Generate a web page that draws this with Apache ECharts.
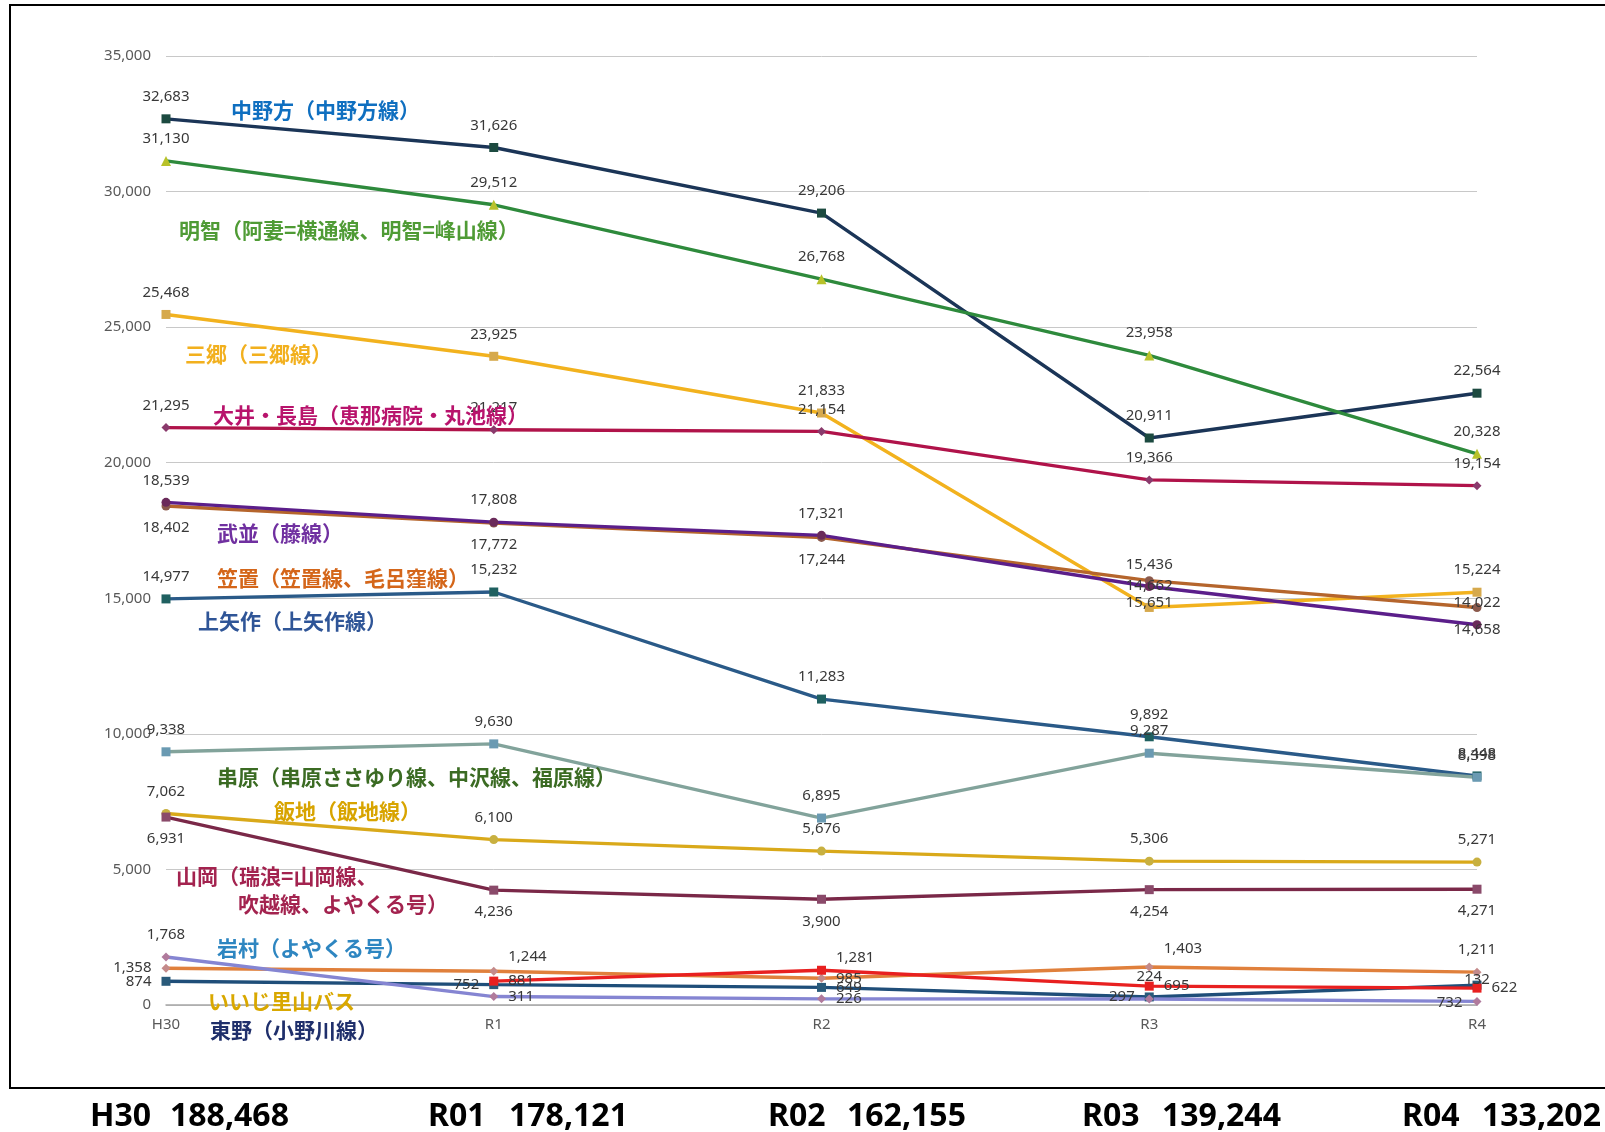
<!DOCTYPE html>
<html>
<head>
<meta charset="utf-8">
<script src="https://cdn.jsdelivr.net/npm/echarts@6/dist/echarts.min.js"></script>
<style>
  html, body { margin: 0; padding: 0; background: #fff; }
  #chart { width: 1605px; height: 1132px; }
</style>
</head>
<body>
<div id="chart"></div>
<script>
// 年度
const years = ["H30", "R1", "R2", "R3", "R4"];

// 各路線の利用者数
const nakanoho = [32683, 31626, 29206, 20911, 22564];
const akechi = [31130, 29512, 26768, 23958, 20328];
const misato = [25468, 23925, 21833, 14662, 15224];
const ooiNagashima = [21295, 21217, 21154, 19366, 19154];
const takenami = [18539, 17808, 17321, 15436, 14022];
const kasagi = [18402, 17772, 17244, 15651, 14658];
const kamiyahagi = [14977, 15232, 11283, 9892, 8448];
const kushihara = [9338, 9630, 6895, 9287, 8398];
const iiji = [7062, 6100, 5676, 5306, 5271];
const yamaoka = [6931, 4236, 3900, 4254, 4271];
const iwamura = [1768, 311, 226, 224, 132];
const orangeLine = [1358, 1244, 985, 1403, 1211];
const iijiSatoyama = [null, 881, 1281, 695, 622];
const higashino = [874, 752, 649, 297, 732];

// 下の合計
const totalYears = ["H30", "R01", "R02", "R03", "R04"];
const totals = [188468, 178121, 162155, 139244, 133202];

const labelFont = '"Noto Sans", sans-serif';
const titleFont = '"Noto Sans CJK JP", sans-serif';

// ラベル位置 ("r-15" = 右で15px上, "l+18" = 左で18px下)
const makeData = (values, positions) =>
  values.map((v, i) => {
    if (v === null) return null;
    let pos = Array.isArray(positions) ? positions[i] : positions;
    let offset = [0, 0];
    if (pos.startsWith("r-")) {
      offset = [0, -Number(pos.slice(2))];
      pos = "right";
    } else if (pos.startsWith("l+")) {
      offset = [0, Number(pos.slice(2))];
      pos = "left";
    }
    return { value: v, label: { position: pos, offset: offset } };
  });

const makeSeries = (name, values, lineColor, markColor, symbol, positions) => ({
  name: name,
  type: "line",
  data: makeData(values, positions),
  symbol: symbol,
  symbolSize: symbol === "triangle" ? 10 : 9,
  lineStyle: { color: lineColor, width: 3.4 },
  itemStyle: { color: markColor },
  connectNulls: false,
  label: {
    show: true,
    distance: 10,
    color: "#383838",
    fontSize: 15,
    fontFamily: labelFont,
    formatter: (p) => p.value.toLocaleString("en-US"),
  },
});

const seriesList = [
  makeSeries("中野方", nakanoho, "#1b3557", "#1c4a40", "rect", "top"),
  makeSeries("明智", akechi, "#2e8a3c", "#b8c22a", "triangle", "top"),
  makeSeries("三郷", misato, "#f2b21e", "#d6a94c", "rect", "top"),
  makeSeries("大井・長島", ooiNagashima, "#b0134a", "#8a3a6c", "diamond", "top"),
  makeSeries("笠置", kasagi, "#b5652c", "#8b5a4c", "circle", "bottom"),
  makeSeries("武並", takenami, "#5b1e8a", "#6a2a5a", "circle", "top"),
  makeSeries("上矢作", kamiyahagi, "#2a5a88", "#1f6060", "rect", "top"),
  makeSeries("串原", kushihara, "#82a39b", "#6a9ab2", "rect", "top"),
  makeSeries("飯地", iiji, "#d9a91a", "#c8b040", "circle", "top"),
  makeSeries("山岡", yamaoka, "#7a2848", "#8a4a6a", "rect", "bottom"),
  makeSeries("その他", orangeLine, "#e0803c", "#c48a8a", "diamond", ["left", "r-15", "right", "r-18", "top"]),
  makeSeries("東野", higashino, "#1f4e79", "#2a5a7a", "rect", ["left", "left", "right", "left", "l+18"]),
  makeSeries("いいじ里山バス", iijiSatoyama, "#e82020", "#e82020", "rect", ["right", "right", "r-13", "right", "right"]),
  makeSeries("岩村", iwamura, "#8585d2", "#b07a9c", "diamond", ["top", "right", "right", "top", "top"]),
];

// 路線名の注記
const notes = [
  { text: "中野方（中野方線）", x: 231, y: 110, color: "#0f6fc0" },
  { text: "明智（阿妻=横通線、明智=峰山線）", x: 179, y: 230, color: "#4f9b35" },
  { text: "三郷（三郷線）", x: 185, y: 354, color: "#f2b01e" },
  { text: "大井・長島（恵那病院・丸池線）", x: 213, y: 415, color: "#b8136c" },
  { text: "武並（藤線）", x: 217, y: 533, color: "#7030a0" },
  { text: "笠置（笠置線、毛呂窪線）", x: 217, y: 578, color: "#d4661a" },
  { text: "上矢作（上矢作線）", x: 198, y: 621, color: "#2f5597" },
  { text: "串原（串原ささゆり線、中沢線、福原線）", x: 217, y: 777, color: "#3b6b23" },
  { text: "飯地（飯地線）", x: 274, y: 811, color: "#d8a400" },
  { text: "山岡（瑞浪=山岡線、", x: 176, y: 876, color: "#a3234f" },
  { text: "吹越線、よやくる号）", x: 238, y: 904, color: "#a3234f" },
  { text: "岩村（よやくる号）", x: 217, y: 948, color: "#2e86c1" },
  { text: "いいじ里山バス", x: 208, y: 1001, color: "#d9a800" },
  { text: "東野（小野川線）", x: 210, y: 1030, color: "#1f2f6b" },
];

// 合計の位置
const totalPos = [
  [90, 170],
  [428, 509],
  [768, 847],
  [1082, 1162],
  [1402, 1482],
];

const graphics = [
  {
    type: "rect",
    shape: { x: 10, y: 5, width: 1610, height: 1083 },
    style: { fill: "none", stroke: "#000", lineWidth: 2 },
    z: 1,
  },
];
notes.forEach((n) => {
  graphics.push({
    type: "text",
    x: n.x,
    y: n.y,
    z: 100,
    style: {
      text: n.text,
      fill: n.color,
      font: "bold 21px " + titleFont,
      verticalAlign: "middle",
    },
  });
});
totalYears.forEach((y, i) => {
  const font = 'bold 32px "Noto Sans", sans-serif';
  graphics.push({
    type: "text",
    x: totalPos[i][0],
    y: 1117,
    style: { text: y, fill: "#000", font: font, verticalAlign: "middle" },
  });
  graphics.push({
    type: "text",
    x: totalPos[i][1],
    y: 1117,
    style: { text: totals[i].toLocaleString("en-US"), fill: "#000", font: font, verticalAlign: "middle" },
  });
});

const chart = echarts.init(document.getElementById("chart"));
chart.setOption({
  backgroundColor: "#fff",
  animation: false,
  grid: { left: 166, right: 128, top: 56, bottom: 127 },
  xAxis: {
    type: "category",
    data: years,
    boundaryGap: false,
    axisLine: { lineStyle: { color: "#a6a6a6", width: 1.5 } },
    axisTick: { show: false },
    axisLabel: { color: "#595959", fontSize: 15, fontFamily: labelFont, margin: 12 },
  },
  yAxis: {
    type: "value",
    min: 0,
    max: 35000,
    interval: 5000,
    axisLine: { show: false },
    axisTick: { show: false },
    splitLine: { lineStyle: { color: "#c8c8c8", width: 1 } },
    axisLabel: {
      color: "#595959",
      fontSize: 15,
      fontFamily: labelFont,
      margin: 15,
      formatter: (v) => v.toLocaleString("en-US"),
    },
  },
  series: seriesList,
  graphic: graphics,
});
</script>
</body>
</html>
